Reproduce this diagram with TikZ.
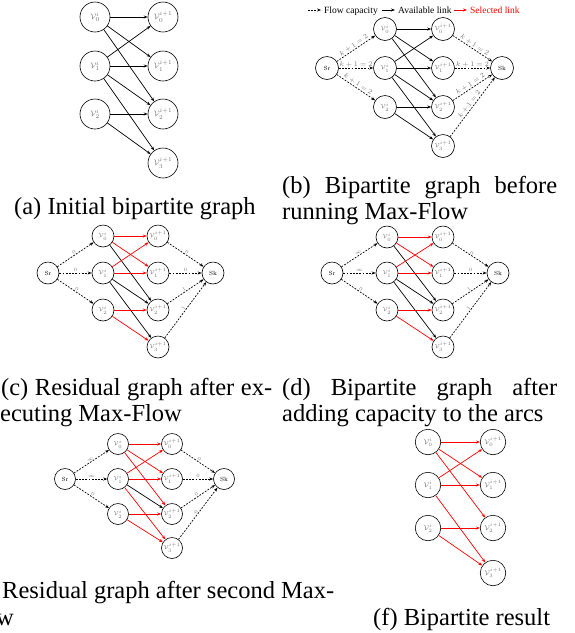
\documentclass[tikz,border=0pt]{standalone}
\usepackage[no-math]{fontspec}
\setmainfont{Liberation Serif}
\usetikzlibrary{arrows.meta}
\begin{document}
\begin{tikzpicture}[x=1pt,y=-1pt,
  vtx/.style={circle,draw,line width=0.6pt,inner sep=0pt,text=black!55},
  va/.style={vtx,minimum size=30pt,font=\fontsize{8.5}{9}\selectfont},
  vb/.style={vtx,minimum size=23pt,font=\fontsize{6.5}{7}\selectfont},
  vc/.style={vtx,minimum size=22pt,font=\fontsize{6}{7}\selectfont},
  ve/.style={vtx,minimum size=21pt,font=\fontsize{5.8}{6}\selectfont},
  vf/.style={vtx,minimum size=25.5pt,font=\fontsize{7.5}{8}\selectfont},
  sknode/.style={text=black},
  avail/.style={-{Stealth[length=4pt,width=3pt]},line width=0.7pt},
  sel/.style={avail,red},
  flow/.style={-{Stealth[length=4pt,width=3pt]},line width=0.7pt,dash pattern=on 1.8pt off 1.4pt},
  lab/.style={midway,sloped,above,inner sep=0.8pt,text=black!55,font=\fontsize{5.5}{6}\selectfont},
  labk/.style={lab,font=\fontsize{7}{7}\selectfont},
  captxt/.style={anchor=base west,inner sep=0pt,font=\fontsize{24.5}{26}\selectfont},
  legtxt/.style={anchor=base west,inner sep=0pt,font=\fontsize{9.5}{10}\selectfont},
]
\useasboundingbox (0,0) rectangle (574,633);

% ---------------- (a) ----------------
\node[va] (a0) at (95,17) {$\mathcal{V}_0^{i}$};
\node[va] (a1) at (95,66) {$\mathcal{V}_1^{i}$};
\node[va] (a2) at (95,114) {$\mathcal{V}_2^{i}$};
\node[va] (a0p) at (163,17) {$\mathcal{V}_0^{i+1}$};
\node[va] (a1p) at (163,66) {$\mathcal{V}_1^{i+1}$};
\node[va] (a2p) at (163,114) {$\mathcal{V}_2^{i+1}$};
\node[va] (a3p) at (163,163) {$\mathcal{V}_3^{i+1}$};
\foreach \s/\t in {a0/a0p,a0/a1p,a0/a2p,a1/a0p,a1/a1p,a1/a2p,a1/a3p,a2/a2p,a2/a3p}
  \draw[avail] (\s) -- (\t);
\node[captxt] (capa) at (14,214) {(a) Initial bipartite graph};

% ---------------- (b) ----------------
\coordinate (lg1s) at (308,10); \coordinate (lg1e) at (321,10);
\draw[flow,line width=0.9pt] (lg1s) -- (lg1e);
\node[legtxt] (lg1) at (324,13) {Flow capacity};
\coordinate (lg2s) at (382,10); \coordinate (lg2e) at (395,10);
\draw[avail,line width=1pt] (lg2s) -- (lg2e);
\node[legtxt] (lg2) at (398,13) {Available link};
\coordinate (lg3s) at (454,10); \coordinate (lg3e) at (467,10);
\draw[sel,line width=1pt] (lg3s) -- (lg3e);
\node[legtxt,text=red] (lg3) at (470,13) {Selected link};

\node[vb,sknode] (bsr) at (327,68) {$\mathrm{Sr}$};
\node[vb] (b0) at (385,29) {$\mathcal{V}_0^{i}$};
\node[vb] (b1) at (385,68) {$\mathcal{V}_1^{i}$};
\node[vb] (b2) at (385,107) {$\mathcal{V}_2^{i}$};
\node[vb] (b0p) at (443,29) {$\mathcal{V}_0^{i+1}$};
\node[vb] (b1p) at (443,68) {$\mathcal{V}_1^{i+1}$};
\node[vb] (b2p) at (443,107) {$\mathcal{V}_2^{i+1}$};
\node[vb] (b3p) at (443,146) {$\mathcal{V}_3^{i+1}$};
\node[vb,sknode] (bsk) at (502,68) {$\mathrm{Sk}$};
\foreach \s/\t in {b0/b0p,b0/b1p,b0/b2p,b1/b0p,b1/b1p,b1/b2p,b1/b3p,b2/b2p,b2/b3p}
  \draw[avail] (\s) -- (\t);
\foreach \t in {b0,b1,b2}
  \draw[flow] (bsr) -- node[labk] {$k+1=2$} (\t);
\foreach \s in {b0p,b1p,b2p,b3p}
  \draw[flow] (\s) -- node[labk] {$k+1=2$} (bsk);
\node[captxt] (capb1) at (282,193) {\makebox[275pt][s]{(b) Bipartite graph before}};
\node[captxt] (capb2) at (282,219) {running Max-Flow};

% ---------------- (c) ----------------
\node[vc,sknode] (csr) at (48,273) {$\mathrm{Sr}$};
\node[vc] (c0) at (103,236) {$\mathcal{V}_0^{i}$};
\node[vc] (c1) at (103,273) {$\mathcal{V}_1^{i}$};
\node[vc] (c2) at (103,310) {$\mathcal{V}_2^{i}$};
\node[vc] (c0p) at (158,236) {$\mathcal{V}_0^{i+1}$};
\node[vc] (c1p) at (158,273) {$\mathcal{V}_1^{i+1}$};
\node[vc] (c2p) at (158,310) {$\mathcal{V}_2^{i+1}$};
\node[vc] (c3p) at (158,347) {$\mathcal{V}_3^{i+1}$};
\node[vc,sknode] (csk) at (213,273) {$\mathrm{Sk}$};
\foreach \s/\t in {c0/c2p,c1/c2p,c1/c3p}
  \draw[avail] (\s) -- (\t);
\foreach \s/\t in {c0/c0p,c0/c1p,c1/c0p,c1/c1p,c2/c2p,c2/c3p}
  \draw[sel] (\s) -- (\t);
\foreach \t/\l in {c0/0,c1/0,c2/0}
  \draw[flow] (csr) -- node[lab] {$\l$} (\t);
\foreach \s/\l in {c0p/0,c1p/0,c2p/1,c3p/1}
  \draw[flow] (\s) -- node[lab] {$\l$} (csk);
\node[captxt] (capc1) at (1,395) {\makebox[271pt][s]{(c) Residual graph after ex-}};
\node[captxt] (capc2) at (0,421) {ecuting Max-Flow};

% ---------------- (d) ----------------
\node[vc,sknode] (dsr) at (332,273) {$\mathrm{Sr}$};
\node[vc] (d0) at (387,237) {$\mathcal{V}_0^{i}$};
\node[vc] (d1) at (387,273) {$\mathcal{V}_1^{i}$};
\node[vc] (d2) at (387,310) {$\mathcal{V}_2^{i}$};
\node[vc] (d0p) at (443,237) {$\mathcal{V}_0^{i+1}$};
\node[vc] (d1p) at (443,273) {$\mathcal{V}_1^{i+1}$};
\node[vc] (d2p) at (443,310) {$\mathcal{V}_2^{i+1}$};
\node[vc] (d3p) at (443,347) {$\mathcal{V}_3^{i+1}$};
\node[vc,sknode] (dsk) at (498,273) {$\mathrm{Sk}$};
\foreach \s/\t in {d0/d2p,d1/d2p,d1/d3p}
  \draw[avail] (\s) -- (\t);
\foreach \s/\t in {d0/d0p,d0/d1p,d1/d0p,d1/d1p,d2/d2p,d2/d3p}
  \draw[sel] (\s) -- (\t);
\foreach \t/\l in {d0/\infty,d1/\infty,d2/0}
  \draw[flow] (dsr) -- node[lab] {$\l$} (\t);
\foreach \s/\l in {d0p/0,d1p/0,d2p/1,d3p/1}
  \draw[flow] (\s) -- node[lab] {$\l$} (dsk);
\node[captxt] (capd1) at (282,395) {\makebox[275pt][s]{(d) Bipartite graph after}};
\node[captxt] (capd2) at (282,421) {adding capacity to the arcs};

% ---------------- (e) ----------------
\node[ve,sknode] (esr) at (65,479) {$\mathrm{Sr}$};
\node[ve] (e0) at (118,444) {$\mathcal{V}_0^{i}$};
\node[ve] (e1) at (118,479) {$\mathcal{V}_1^{i}$};
\node[ve] (e2) at (118,514) {$\mathcal{V}_2^{i}$};
\node[ve] (e0p) at (172,444) {$\mathcal{V}_0^{i+1}$};
\node[ve] (e1p) at (172,479) {$\mathcal{V}_1^{i+1}$};
\node[ve] (e2p) at (172,514) {$\mathcal{V}_2^{i+1}$};
\node[ve] (e3p) at (172,548) {$\mathcal{V}_3^{i+1}$};
\node[ve,sknode] (esk) at (224,479) {$\mathrm{Sk}$};
\draw[avail] (e1) -- (e2p);
\foreach \s/\t in {e0/e0p,e0/e1p,e0/e2p,e1/e0p,e1/e1p,e1/e3p,e2/e2p,e2/e3p}
  \draw[sel] (\s) -- (\t);
\foreach \t/\l in {e0/\infty,e1/\infty,e2/0}
  \draw[flow] (esr) -- node[lab] {$\l$} (\t);
\foreach \s/\l in {e0p/0,e1p/0,e2p/0,e3p/0}
  \draw[flow] (\s) -- node[lab] {$\l$} (esk);
\node[captxt] (cape1) at (2,598) {Residual graph after second Max-};
\node[captxt] (cape2) at (-4,625) {w};

% ---------------- (f) ----------------
\node[vf] (f0) at (428,442) {$\mathcal{V}_0^{i}$};
\node[vf] (f1) at (428,485) {$\mathcal{V}_1^{i}$};
\node[vf] (f2) at (428,528) {$\mathcal{V}_2^{i}$};
\node[vf] (f0p) at (493,442) {$\mathcal{V}_0^{i+1}$};
\node[vf] (f1p) at (493,485) {$\mathcal{V}_1^{i+1}$};
\node[vf] (f2p) at (493,528) {$\mathcal{V}_2^{i+1}$};
\node[vf] (f3p) at (493,573) {$\mathcal{V}_3^{i+1}$};
\foreach \s/\t in {f0/f0p,f0/f1p,f0/f2p,f1/f0p,f1/f1p,f1/f3p,f2/f2p,f2/f3p}
  \draw[sel] (\s) -- (\t);
\node[captxt] (capf) at (373,625) {(f) Bipartite result};
\end{tikzpicture}
\end{document}
